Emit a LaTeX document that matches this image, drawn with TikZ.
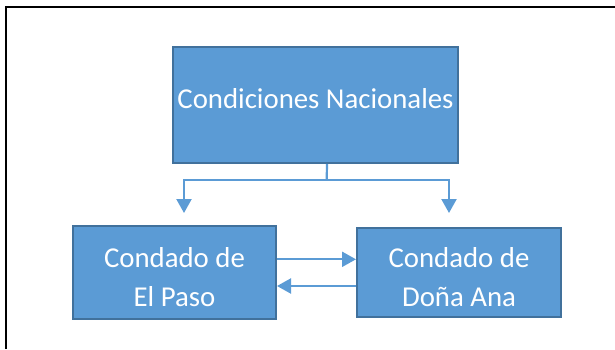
\documentclass[tikz,border=0pt]{standalone}
\usepackage{fontspec}
\setmainfont{Carlito}
\usetikzlibrary{arrows.meta}
\usetikzlibrary{positioning}
\usetikzlibrary{calc}
\definecolor{azul}{RGB}{91,155,213}
\definecolor{borde}{RGB}{65,113,156}
\tikzset{
  caja/.style={draw=borde, fill=azul, line width=2pt, text=white, align=center,
    font=\fontsize{28.8}{39}\selectfont},
  flecha/.style={draw=azul, line width=2.2pt, -{Triangle[width=15pt,length=14pt]}},
}
\begin{document}
\begin{tikzpicture}[x=1pt,y=-1pt]
  \useasboundingbox (0,0) rectangle (615,349);

  %marco
  \draw[line width=2pt] (5.5,349) -- (5.5,6.5) -- (615,6.5);

  %cajas
  \node[caja, minimum width=285pt, minimum height=116pt, text height=20pt, text depth=14pt] (nac) at (315.5,105) {Condiciones Nacionales};
    \foreach \x/\w/\h/\txt/\name in {174.5/203/93/El Paso/ep, 459/204/89/Doña Ana/da}{
      \node[caja, minimum width=\w pt, minimum height=\h pt, text height=68pt, text depth=0pt] (\name) at (\x,272.5) {Condado de\\\txt};
    }

  %conectores
  \coordinate (ramal) at (326.7,180);
  \coordinate (puntaizq) at (184,213);
  \coordinate (puntader) at (449,213);
  \draw[azul, line width=2.2pt] ($(nac.south)+(11.5,0)$) -- (ramal);
  \draw[flecha] (ramal) -| (puntaizq);
  \draw[flecha] (ramal) -| (puntader);

  \draw[flecha] ([yshift=13.2pt]ep.east) -- ([yshift=13.2pt]ep.east -| da.west);
  \draw[flecha] ([yshift=-13.5pt]da.west) -- ([yshift=-13.5pt]da.west -| ep.east);

\end{tikzpicture}
\end{document}
